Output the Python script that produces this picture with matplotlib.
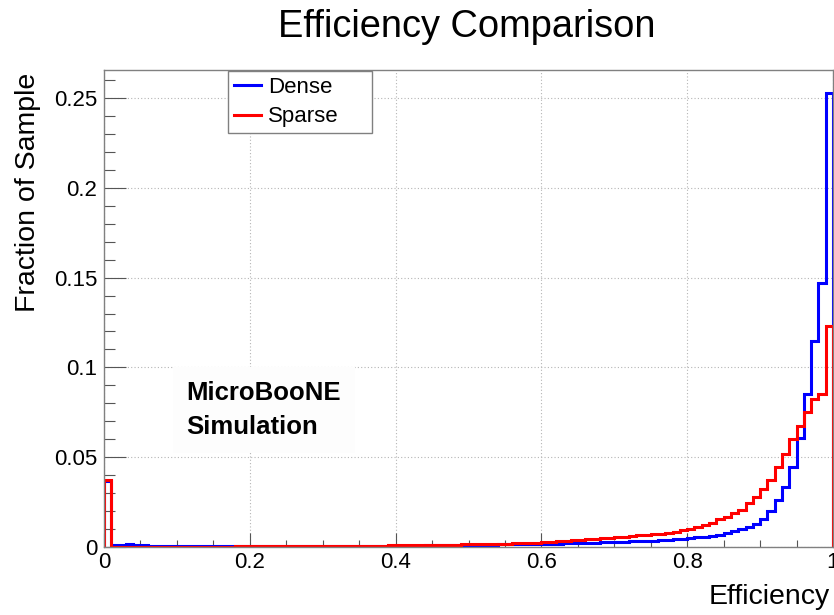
#!/usr/bin/env python3

import matplotlib
matplotlib.use("Agg")
import matplotlib.pyplot as plt
import matplotlib.ticker as ticker
import numpy as np

# histogram contents, 100 bins of width 0.01 in efficiency
bin_edges = np.linspace(0.0, 1.0, 101)

dense = [
    0.0365, 0.0010, 0.0012, 0.0014, 0.0012, 0.0010, 0.0006, 0.0006, 0.0005, 0.0005,
    0.0005, 0.0005, 0.0004, 0.0005, 0.0004, 0.0004, 0.0005, 0.0004, 0.0005, 0.0004,
    0.0004, 0.0005, 0.0004, 0.0005, 0.0004, 0.0005, 0.0005, 0.0004, 0.0005, 0.0005,
    0.0005, 0.0006, 0.0005, 0.0006, 0.0006, 0.0006, 0.0007, 0.0006, 0.0007, 0.0007,
    0.0007, 0.0008, 0.0008, 0.0008, 0.0009, 0.0009, 0.0010, 0.0010, 0.0011, 0.0011,
    0.0012, 0.0012, 0.0013, 0.0013, 0.0014, 0.0014, 0.0015, 0.0015, 0.0016, 0.0016,
    0.0017, 0.0018, 0.0019, 0.0020, 0.0021, 0.0022, 0.0023, 0.0024, 0.0026, 0.0027,
    0.0028, 0.0030, 0.0031, 0.0033, 0.0034, 0.0036, 0.0038, 0.0040, 0.0043, 0.0046,
    0.0048, 0.0054, 0.0058, 0.0062, 0.0069, 0.0080, 0.0090, 0.0102, 0.0113, 0.0128,
    0.0154, 0.0202, 0.0262, 0.0332, 0.0444, 0.0605, 0.0852, 0.1149, 0.1468, 0.2526,
]

sparse = [
    0.0375, 0.0002, 0.0002, 0.0002, 0.0002, 0.0002, 0.0002, 0.0002, 0.0002, 0.0002,
    0.0002, 0.0002, 0.0002, 0.0002, 0.0002, 0.0002, 0.0002, 0.0002, 0.0003, 0.0003,
    0.0003, 0.0003, 0.0003, 0.0004, 0.0003, 0.0004, 0.0004, 0.0005, 0.0004, 0.0005,
    0.0005, 0.0005, 0.0006, 0.0006, 0.0006, 0.0007, 0.0007, 0.0008, 0.0008, 0.0009,
    0.0009, 0.0009, 0.0010, 0.0010, 0.0011, 0.0011, 0.0012, 0.0013, 0.0013, 0.0014,
    0.0015, 0.0016, 0.0016, 0.0017, 0.0018, 0.0019, 0.0020, 0.0021, 0.0022, 0.0025,
    0.0028, 0.0030, 0.0033, 0.0036, 0.0039, 0.0041, 0.0044, 0.0046, 0.0048, 0.0050,
    0.0053, 0.0057, 0.0060, 0.0065, 0.0068, 0.0070, 0.0075, 0.0080, 0.0085, 0.0092,
    0.0098, 0.0110, 0.0122, 0.0135, 0.0154, 0.0165, 0.0187, 0.0206, 0.0243, 0.0280,
    0.0325, 0.0373, 0.0444, 0.0518, 0.0600, 0.0674, 0.0750, 0.0822, 0.0852, 0.1230,
]

xticks = [0.0, 0.2, 0.4, 0.6, 0.8, 1.0]
xticklabels = ["0", "0.2", "0.4", "0.6", "0.8", "1"]
yticks = [0.0, 0.05, 0.10, 0.15, 0.20, 0.25]
yticklabels = ["0", "0.05", "0.1", "0.15", "0.2", "0.25"]

plt.rcParams['font.family'] = ['Liberation Sans', 'DejaVu Sans']

fig = plt.figure(figsize=(8.34, 6.15), dpi=100)
ax = fig.add_axes([104/834, 1 - 547/615, 729/834, 477/615])
ax.set_xlim(0, 1)
ax.set_ylim(0, 0.2656)

ax.stairs(dense, bin_edges, color="#0000ff", lw=2.2, label="Dense")
ax.stairs(sparse, bin_edges, color="#ff0000", lw=2.2, label="Sparse")

# ROOT style frame and ticks
for s in ax.spines.values():
    s.set_color("#808080")
    s.set_linewidth(1.0)
ax.set_xticks(xticks)
ax.set_xticklabels(xticklabels)
ax.set_yticks(yticks)
ax.set_yticklabels(yticklabels)
ax.xaxis.set_minor_locator(ticker.MultipleLocator(0.05))
ax.yaxis.set_minor_locator(ticker.MultipleLocator(0.01))
ax.tick_params(axis='both', which='both', direction='in', colors="#555555",
               labelcolor="black", labelsize=16, width=0.8)
ax.tick_params(axis='x', which='major', length=10, pad=3.5)
ax.tick_params(axis='x', which='minor', length=5)
ax.tick_params(axis='y', which='major', length=15.8, pad=5)
ax.tick_params(axis='y', which='minor', length=7.9)
ax.grid(True, which='major', color="#b5b5b5", lw=0.8, linestyle=(0, (1, 2)))
ax.set_axisbelow(True)

fig.text(467/834, 1 - 27/615, "Efficiency Comparison", fontsize=27.4,
         ha='center', va='center')
fig.text(830/834, 1 - 597/615, "Efficiency", fontsize=20.5,
         ha='right', va='center')
fig.text(28/834, 1 - 73/615, "Fraction of Sample", fontsize=20.5,
         rotation=90, ha='center', va='top')

ax.text(0.113, 0.0763, "MicroBooNE\nSimulation", fontsize=18.5,
        fontweight='bold', ha='left', va='center', linespacing=1.5,
        transform=ax.transData,
        bbox=dict(facecolor="#fdfdfd", edgecolor="none", pad=10))

leg = fig.legend(loc='upper left',
                 bbox_to_anchor=(228/834, 1 - 133/615, 144/834, 62/615),
                 mode='expand', borderaxespad=0, fontsize=16,
                 handlelength=1.25, handletextpad=0.3, labelspacing=0.4,
                 borderpad=0.25, fancybox=False, framealpha=1,
                 edgecolor="#808080")
leg.get_frame().set_linewidth(1.0)
for h in leg.legend_handles:
    h.set_linewidth(2.2)

fig.savefig("out.png", dpi=100)
